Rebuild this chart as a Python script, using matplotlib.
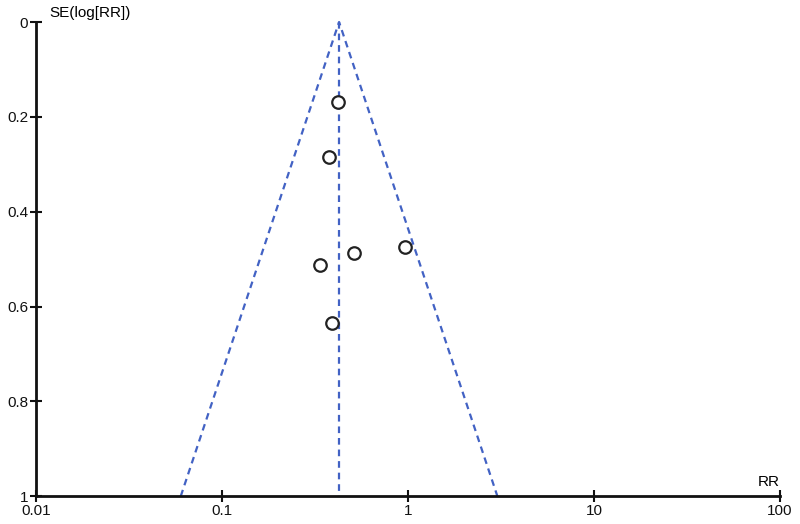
import matplotlib
matplotlib.use("Agg")
import matplotlib.pyplot as plt
import numpy as np

plt.rcParams['font.family'] = ['Liberation Sans', 'DejaVu Sans']

# study estimates
rr = [0.421, 0.376, 0.964, 0.513, 0.336, 0.390]
se = [0.169, 0.285, 0.475, 0.487, 0.513, 0.635]
pooled_rr = 0.426
se_max = 1.0
xticks = [0.01, 0.1, 1, 10, 100]
xticklabels = ["0.01", "0.1", "1", "10", "100"]
yticks = [0, 0.2, 0.4, 0.6, 0.8, 1]
yticklabels = ["0", "0.2", "0.4", "0.6", "0.8", "1"]

fig = plt.figure(figsize=(8, 5.24), dpi=100)
ax = fig.add_axes([0.045, 0.053, 0.93, 0.905])

blue = '#4262c4'
# pseudo 95% confidence limits
lo = pooled_rr * np.exp(-1.96 * se_max)
hi = pooled_rr * np.exp(1.96 * se_max)
ax.plot([lo, pooled_rr, hi], [se_max, 0, se_max], color=blue, lw=1.6,
        dashes=(3, 2.2), clip_on=False)
ax.plot([pooled_rr, pooled_rr], [0, se_max], color=blue, lw=1.6,
        dashes=(3, 2.2), clip_on=False)

ax.plot(rr, se, 'o', mfc='white', mec='#222222', mew=1.6, ms=9, ls='none')

ax.set_xscale('log')
ax.set_xlim(0.01, 100)
ax.set_ylim(1, 0)
ax.set_xticks(xticks)
ax.set_xticklabels(xticklabels)
ax.set_yticks(yticks)
ax.set_yticklabels(yticklabels)
ax.minorticks_off()

for s in ['top', 'right']:
    ax.spines[s].set_visible(False)
for s in ['left', 'bottom']:
    ax.spines[s].set_linewidth(2)
    ax.spines[s].set_color('#111111')

ax.tick_params(axis='both', direction='inout', length=9, width=1.5,
               labelsize=11, colors='#111111', pad=1)

ax.text(0.0118, -0.005, "SE(log[RR])", fontsize=11, ha='left', va='bottom')
ax.text(100, 0.985, "RR", fontsize=11, ha='right', va='bottom')

fig.savefig("out.png", dpi=100)
